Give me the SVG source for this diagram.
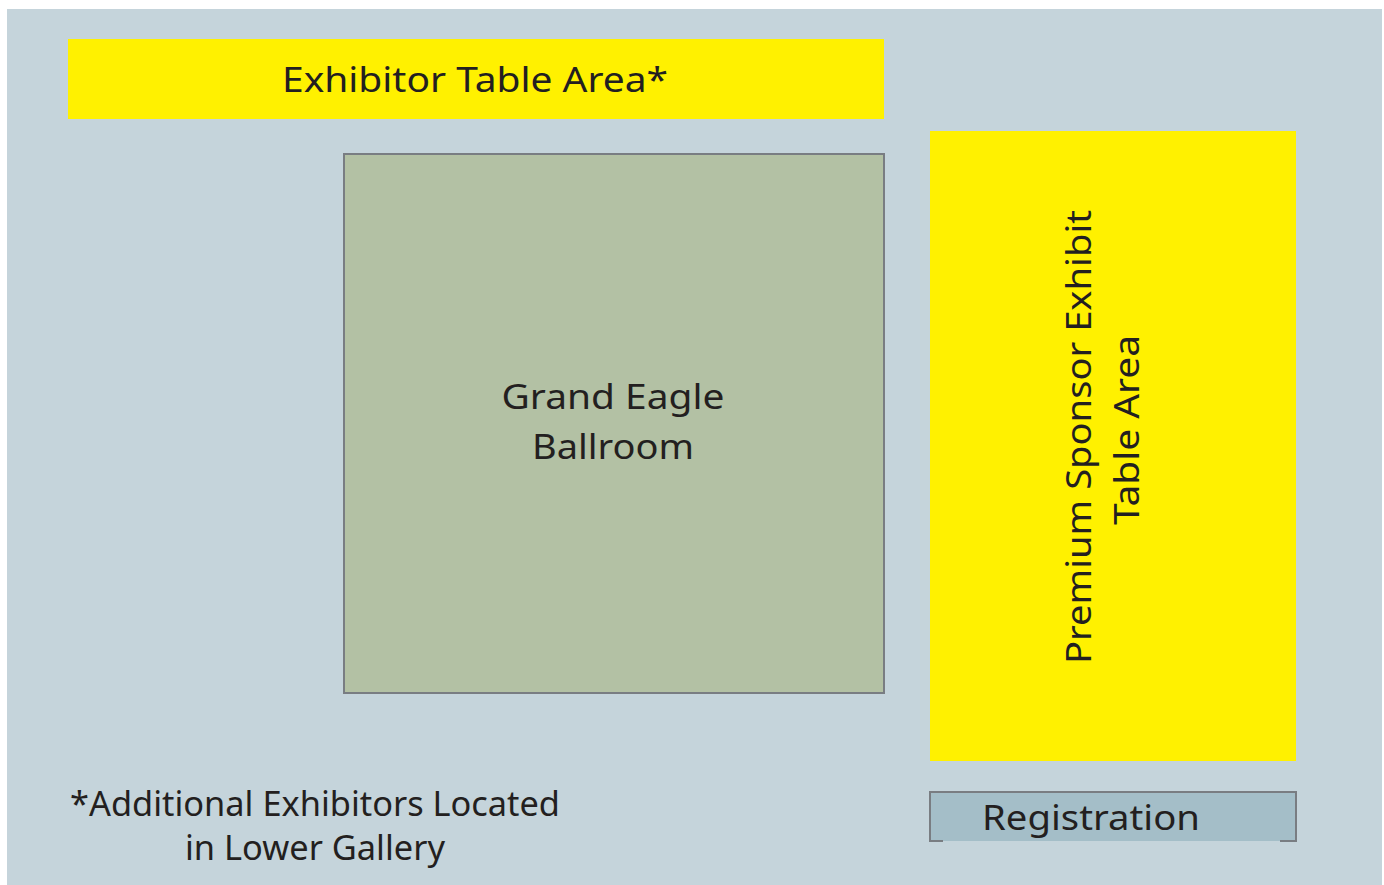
<svg xmlns="http://www.w3.org/2000/svg" width="1384" height="885" viewBox="0 0 1384 885">
<style>
text{font-family:"Noto Sans","Liberation Sans",sans-serif;fill:#231f20;font-size:34px;text-anchor:middle}
.yel{fill:#fff100}
</style>
<rect x="0" y="0" width="1384" height="885" fill="#ffffff"/>
<rect x="7" y="9" width="1375" height="876" fill="#c5d4db"/>
<g id="exhibitor-table-area">
<rect class="yel" x="68" y="39" width="816" height="80"/>
<text x="475" y="92" textLength="386" lengthAdjust="spacingAndGlyphs">Exhibitor Table Area*</text>
</g>
<g id="ballroom">
<rect x="344" y="154" width="540" height="539" fill="#b3c1a4" stroke="#797d82" stroke-width="2"/>
<text x="613" y="409" textLength="223" lengthAdjust="spacingAndGlyphs">Grand Eagle</text>
<text x="613" y="459" textLength="162" lengthAdjust="spacingAndGlyphs">Ballroom</text>
</g>
<g id="premium-sponsor">
<rect class="yel" x="930" y="131" width="366" height="630"/>
<text transform="translate(1091 437) rotate(-90)" textLength="454" lengthAdjust="spacingAndGlyphs">Premium Sponsor Exhibit</text>
<text transform="translate(1139 430) rotate(-90)" textLength="190" lengthAdjust="spacingAndGlyphs">Table Area</text>
</g>
<g id="registration">
<rect x="930" y="792" width="366" height="49" fill="#a4bec8"/>
<path d="M943 841H930V792H1296V841H1280" fill="none" stroke="#797d82" stroke-width="2"/>
<text x="1091" y="830" textLength="218" lengthAdjust="spacingAndGlyphs">Registration</text>
</g>
<g id="note">
<text x="315" y="816" textLength="490" lengthAdjust="spacingAndGlyphs">*Additional Exhibitors Located</text>
<text x="315" y="860" textLength="260" lengthAdjust="spacingAndGlyphs">in Lower Gallery</text>
</g>
<g id="connectors"/>
</svg>
